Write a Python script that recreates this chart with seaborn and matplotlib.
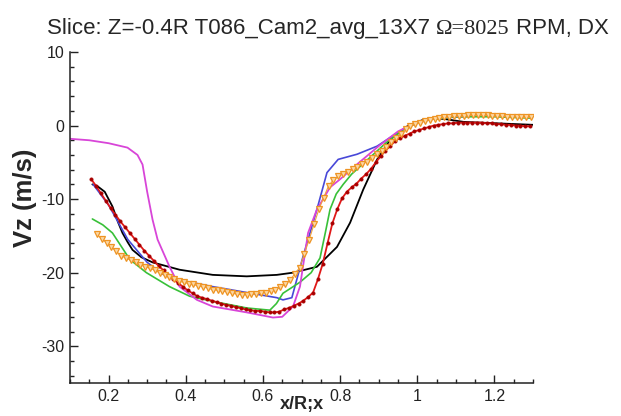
import numpy as np
import pandas as pd
import matplotlib
matplotlib.use("Agg")
import matplotlib.pyplot as plt
import seaborn as sns
from matplotlib.ticker import MultipleLocator, FuncFormatter

# ---------------- data ----------------
title_main = "Slice: Z=-0.4R T086_Cam2_avg_13X7"
title_omega = "\u03a9=8025"
title_tail = "RPM, DX"
x_label = "x/R;x"
y_label = "Vz (m/s)"

x_ticks = [0.2, 0.4, 0.6, 0.8, 1.0, 1.2]
y_ticks = [10, 0, -10, -20, -30]

magenta_x = [0.10, 0.15, 0.20, 0.249, 0.275, 0.288, 0.30, 0.314, 0.327, 0.358, 0.384, 0.429,
             0.47, 0.558, 0.626, 0.65, 0.678, 0.696, 0.717, 0.74, 0.774, 0.80, 0.85, 0.90,
             0.95, 1.00, 1.05, 1.15, 1.30]
magenta_y = [-1.8, -2.0, -2.4, -3.0, -4.0, -5.3, -9.0, -12.8, -15.5, -19.2, -21.9, -23.7,
             -24.6, -25.4, -26.1, -26.0, -24.6, -21.9, -14.6, -11.4, -8.4, -7.3, -5.0, -2.8,
             -0.8, 0.5, 1.1, 1.5, 1.4]

blue_x = [0.16, 0.20, 0.25, 0.30, 0.34, 0.384, 0.47, 0.558, 0.636, 0.652, 0.675, 0.704,
          0.74, 0.766, 0.795, 0.844, 0.896, 0.948, 1.00, 1.05, 1.15, 1.30]
blue_y = [-8.0, -10.8, -15.5, -18.6, -20.2, -21.0, -21.9, -22.7, -23.4, -23.7, -23.4, -17.8,
          -11.4, -6.4, -4.6, -3.9, -2.8, -1.0, 0.4, 1.0, 1.3, 1.2]

green_x = [0.158, 0.185, 0.21, 0.235, 0.255, 0.298, 0.358, 0.41, 0.47, 0.558, 0.618, 0.635,
           0.652, 0.696, 0.725, 0.748, 0.762, 0.774, 0.79, 0.808, 0.83, 0.87, 0.92, 0.97,
           1.02, 1.10, 1.20, 1.30]
green_y = [-12.7, -13.5, -14.6, -16.6, -18.2, -20.0, -21.9, -23.2, -23.9, -24.8, -25.1, -24.2,
           -22.8, -21.3, -20.0, -18.0, -14.5, -11.4, -9.3, -8.0, -6.6, -4.7, -2.3, -0.3,
           0.8, 1.2, 1.2, 1.0]

black_x = [0.158, 0.17, 0.19, 0.21, 0.225, 0.236, 0.25, 0.262, 0.285, 0.314, 0.384, 0.47,
           0.558, 0.636, 0.678, 0.74, 0.792, 0.826, 0.86, 0.896, 0.93, 0.974, 1.016, 1.034,
           1.07, 1.12, 1.208, 1.30]
black_y = [-8.0, -8.2, -9.0, -11.0, -13.2, -14.6, -15.9, -16.9, -17.9, -18.6, -19.6, -20.3,
           -20.5, -20.3, -20.0, -19.2, -16.5, -13.2, -8.7, -4.6, -1.9, -0.1, 0.8, 1.0,
           0.9, 0.5, 0.3, 0.1]

red_x = np.round(np.arange(92) * 0.0125 + 0.155, 4)
red_y = [-7.3, -8.2, -9.2, -10.2, -11.2, -12.1, -13.0, -13.8, -14.6, -15.4,
         -16.2, -17.0, -17.7, -18.4, -19.1, -19.7, -20.3, -20.9, -21.4, -21.9,
         -22.4, -22.8, -23.2, -23.4, -23.6, -23.8, -24.0, -24.2, -24.4, -24.5,
         -24.7, -24.8, -25.0, -25.1, -25.2, -25.2, -25.3, -25.4, -25.4, -25.3,
         -25.0, -24.8, -24.5, -24.2, -23.8, -23.3, -22.7, -20.9, -18.8, -16.0,
         -13.3, -11.4, -9.9, -9.0, -8.4, -7.9, -7.2, -6.6, -5.9, -5.0,
         -4.2, -3.4, -2.8, -2.1, -1.7, -1.4, -1.1, -0.8, -0.6, -0.4,
         -0.2, 0.0, 0.1, 0.2, 0.3, 0.3, 0.4, 0.4, 0.4, 0.4,
         0.4, 0.4, 0.3, 0.3, 0.2, 0.2, 0.1, 0.1, 0.0, 0.0,
         -0.1, -0.1]

orange_x = np.round(np.arange(91) * 0.0125 + 0.17, 4)
orange_y = [-14.8, -15.4, -15.9, -16.5, -17.1, -17.7, -18.0, -18.3, -18.6, -18.9,
            -19.2, -19.4, -19.7, -20.0, -20.3, -20.6, -20.9, -21.2, -21.3, -21.5,
            -21.6, -21.8, -21.9, -22.1, -22.3, -22.4, -22.5, -22.6, -22.8, -22.9,
            -23.0, -23.0, -22.9, -22.9, -22.8, -22.7, -22.5, -22.3, -22.0, -21.5,
            -21.0, -20.2, -19.3, -17.4, -15.5, -13.4, -11.4, -9.8, -8.2, -7.4,
            -6.9, -6.6, -6.3, -5.9, -5.6, -5.2, -4.9, -4.4, -3.9, -3.4,
            -2.9, -2.3, -1.7, -1.1, -0.5, -0.1, 0.2, 0.4, 0.6, 0.8,
            0.9, 1.0, 1.1, 1.2, 1.3, 1.3, 1.3, 1.4, 1.4, 1.4,
            1.4, 1.4, 1.3, 1.3, 1.3, 1.2, 1.2, 1.2, 1.1, 1.1,
            1.1]

# ---------------- style ----------------
sns.set_theme(style="ticks")
plt.rcParams["font.family"] = ["Liberation Sans", "DejaVu Sans"]
plt.rcParams["axes.linewidth"] = 1.1

W, H = 621, 416
fig = plt.figure(figsize=(W / 100, H / 100), dpi=100)
ax = fig.add_axes([70 / W, 1 - 383 / H, (533 - 70) / W, (383 - 52) / H])


def line(xs, ys, **kw):
    df = pd.DataFrame({"x": xs, "y": ys})
    sns.lineplot(data=df, x="x", y="y", ax=ax, sort=False, estimator=None, **kw)


line(black_x, black_y, color="black", lw=1.3)
line(blue_x, blue_y, color="#4848d8", lw=1.2)
line(green_x, green_y, color="#38c038", lw=1.2)
line(magenta_x, magenta_y, color="#d845d8", lw=1.3)
line(red_x, red_y, color="#e01818", lw=1.3, marker="o", markersize=2.6,
     markerfacecolor="#a80000", markeredgecolor="#a80000", markeredgewidth=0.2)
line(orange_x, orange_y, color="#f2a23a", lw=0.8, marker="v", markersize=3.8,
     markerfacecolor="#fbd8a6", markeredgecolor="#ee9424", markeredgewidth=0.9)

ax.set_xlim(0.1, 1.3)
ax.set_ylim(-35, 10)
ax.set_xticks(x_ticks)
ax.set_yticks(y_ticks)
ax.xaxis.set_minor_locator(MultipleLocator(0.05))
ax.yaxis.set_minor_locator(MultipleLocator(2))
ax.xaxis.set_major_formatter(FuncFormatter(lambda v, p: f"{v:g}"))
ax.yaxis.set_major_formatter(FuncFormatter(lambda v, p: f"{v:g}"))
ax.tick_params(which="both", direction="in", color="#222222", labelsize=11.5,
               labelcolor="#222222", width=1.0)
ax.tick_params(which="major", length=5.5, pad=4)
ax.tick_params(which="minor", length=3)
for s in ["top", "right"]:
    ax.spines[s].set_visible(False)
for s in ["left", "bottom"]:
    ax.spines[s].set_color("#222222")

ax.set_xlabel(x_label, fontsize=13, fontweight="bold", labelpad=0)
ax.xaxis.set_label_coords(0.5, -0.04)
ax.set_ylabel(y_label, fontsize=18.5, fontweight="bold")
ax.yaxis.set_label_coords(-0.072, 0.56)

# ---------------- title (sans + serif pieces) ----------------
fs = 16
ty = 1 - 34 / H
r = fig.canvas.get_renderer()
t1 = fig.text(0, ty, title_main, family="Liberation Sans", fontsize=fs, va="baseline")
t2 = fig.text(0, ty, title_omega, family="Liberation Serif", fontsize=fs, va="baseline")
t3 = fig.text(0, ty, title_tail, family="Liberation Sans", fontsize=fs, va="baseline")
gap = 0.278 * fs * 100 / 72
w1 = t1.get_window_extent(r).width
w2 = t2.get_window_extent(r).width
w3 = t3.get_window_extent(r).width
total = w1 + w2 + w3 + 2 * gap
x0 = 328 - total / 2
t1.set_x(x0 / W)
t2.set_x((x0 + w1 + gap) / W)
t3.set_x((x0 + w1 + gap + w2 + gap) / W)

fig.savefig("out.png", dpi=100)
